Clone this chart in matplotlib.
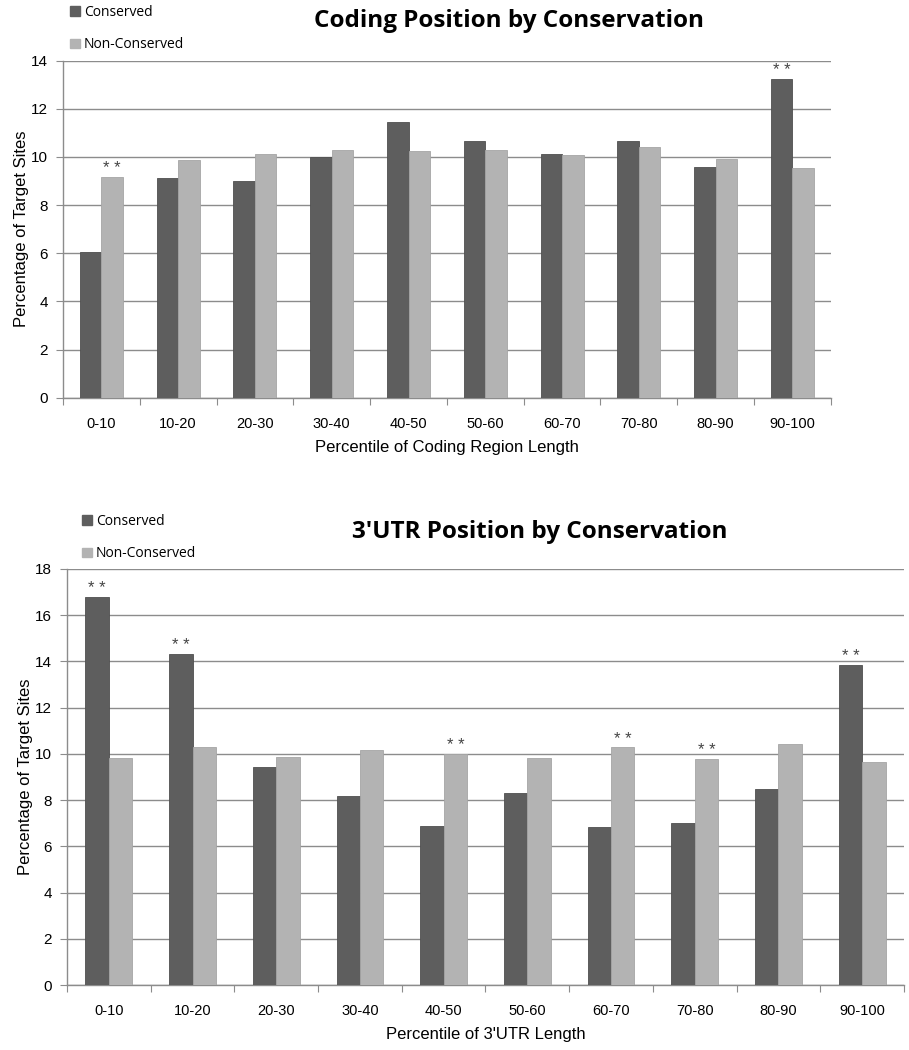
import matplotlib
matplotlib.use("Agg")
import matplotlib.pyplot as plt
import numpy as np
from matplotlib.patches import Patch

categories = ["0-10", "10-20", "20-30", "30-40", "40-50", "50-60", "60-70", "70-80", "80-90", "90-100"]

coding_conserved = [6.05, 9.13, 9.02, 10.01, 11.44, 10.68, 10.12, 10.68, 9.57, 13.24]
coding_nonconserved = [9.17, 9.87, 10.12, 10.28, 10.24, 10.28, 10.07, 10.43, 9.92, 9.53]
coding_sig = [("N", 0), ("C", 9)]

utr_conserved = [16.78, 14.31, 9.45, 8.19, 6.87, 8.29, 6.82, 7.00, 8.50, 13.86]
utr_nonconserved = [9.81, 10.28, 9.87, 10.18, 10.01, 9.81, 10.28, 9.77, 10.44, 9.66]
utr_sig = [("C", 0), ("C", 1), ("N", 4), ("N", 6), ("N", 7), ("C", 9)]

DARK = "#5e5e5e"
LIGHT = "#b3b3b3"
GRID = "#8c8c8c"
TICKFONT = ["Liberation Sans Narrow", "Liberation Sans", "DejaVu Sans"]
SANS = ["Liberation Sans", "DejaVu Sans"]
TITLEFONT = ["Open Sans", "DejaVu Sans"]

fig = plt.figure(figsize=(9.09, 10.5), dpi=100)


def draw(rect, cons, noncons, sig, ymax, xlabel, title, title_xy, legend_xy):
    ax = fig.add_axes(rect)
    x = np.arange(len(categories))
    w = 0.28
    ax.bar(x - w / 2, cons, w, color=DARK, edgecolor="#4f4f4f", linewidth=0.6, zorder=3)
    ax.bar(x + w / 2, noncons, w, color=LIGHT, edgecolor="#a5a5a5", linewidth=0.6, zorder=3)
    for s, i in sig:
        if s == "C":
            xx, yy = x[i] - w / 2, cons[i]
        else:
            xx, yy = x[i] + w / 2, noncons[i]
        ax.text(xx, yy + ymax * 0.002, "* *", ha="center", va="bottom", fontsize=12,
                color="#444444", family=SANS, zorder=4)
    ax.set_xlim(-0.5, len(categories) - 0.5)
    ax.set_ylim(0, ymax)
    ax.set_yticks(np.arange(0, ymax + 1, 2))
    ax.yaxis.grid(True, color=GRID, linewidth=1.0, zorder=0)
    ax.set_axisbelow(True)
    for sp in ["top", "right"]:
        ax.spines[sp].set_visible(False)
    for sp in ["left", "bottom"]:
        ax.spines[sp].set_color(GRID)
        ax.spines[sp].set_linewidth(1.0)
    ax.set_xticks(np.arange(-0.5, len(categories)), minor=False)
    ax.set_xticklabels([])
    ax.set_xticks(x, minor=True)
    ax.set_xticklabels(categories, minor=True, family=TICKFONT, fontsize=10.5)
    ax.tick_params(axis="x", which="major", length=5, color=GRID, direction="out")
    ax.tick_params(axis="x", which="minor", length=0, pad=14)
    ax.tick_params(axis="y", length=5, color=GRID, direction="out", pad=6)
    for lab in ax.get_yticklabels():
        lab.set_family(SANS)
        lab.set_fontsize(11)
    ax.set_xlabel(xlabel, family=TICKFONT, fontsize=12, labelpad=6)
    ax.set_ylabel("Percentage of Target Sites", family=SANS, fontsize=12, labelpad=1)
    fig.text(title_xy[0], title_xy[1], title, ha="center", va="center",
             family=TITLEFONT, fontweight="bold", fontsize=17.5)
    handles = [Patch(facecolor=DARK, edgecolor=DARK), Patch(facecolor=LIGHT, edgecolor=LIGHT)]
    fig.legend(handles, ["Conserved", "Non-Conserved"], loc="upper left",
               bbox_to_anchor=legend_xy, frameon=False, prop={"family": TITLEFONT, "size": 10},
               handlelength=0.7, handleheight=0.7, handletextpad=0.3, labelspacing=1.25,
               borderaxespad=0, borderpad=0)
    return ax


draw([0.0693, 0.6212, 0.8447, 0.3210], coding_conserved, coding_nonconserved, coding_sig, 14,
     "Percentile of Coding Region Length", "Coding Position by Conservation",
     (509 / 909, 1 - 21 / 1050), (70 / 909, 1 - 5 / 1050))

draw([0.0737, 0.0619, 0.9208, 0.3962], utr_conserved, utr_nonconserved, utr_sig, 18,
     "Percentile of 3'UTR Length", "3'UTR Position by Conservation",
     (540 / 909, 1 - 532 / 1050), (82 / 909, 1 - 514 / 1050))

fig.savefig("out.png", dpi=100, facecolor="white")
